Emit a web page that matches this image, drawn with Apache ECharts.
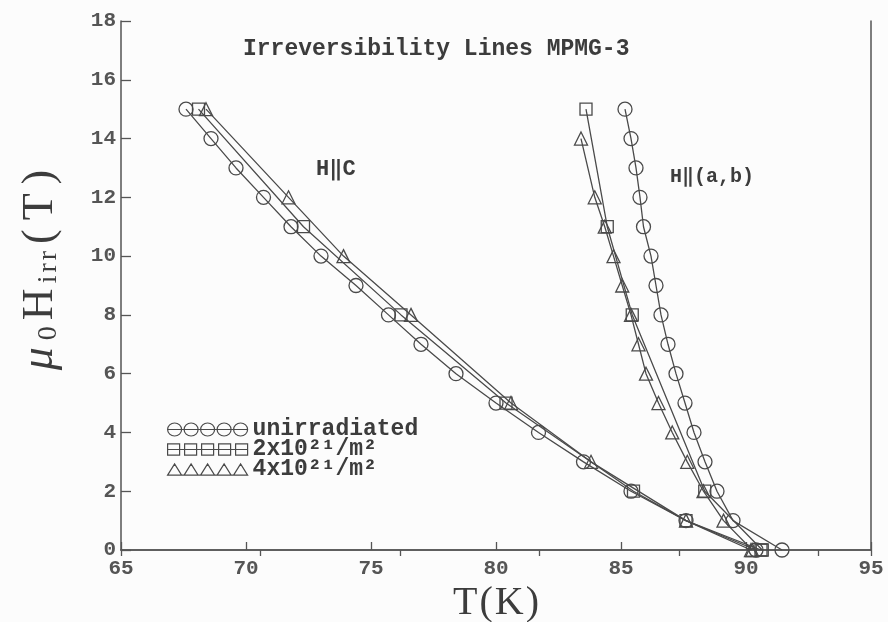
<!DOCTYPE html>
<html><head><meta charset="utf-8">
<script src="https://cdn.jsdelivr.net/npm/echarts@6/dist/echarts.min.js"></script>
<style>html,body{margin:0;padding:0;background:#fcfcfc}#c{width:888px;height:622px}</style>
</head><body><div id="c"></div>
<script>
// ---- data (T in K, field in T) ----
const xTickValues = [65, 70, 75, 80, 85, 90, 95];
const yTickValues = [0, 2, 4, 6, 8, 10, 12, 14, 16, 18];
const legendNames = ['unirradiated', '2x10²¹/m²', '4x10²¹/m²'];

// H || c
const hcUnirrH = [15, 14, 13, 12, 11, 10, 9, 8, 7, 6, 5, 4, 3, 2, 1, 0];
const hcUnirrT = [67.6, 68.6, 69.6, 70.7, 71.8, 73.0, 74.4, 75.7, 77.0, 78.4, 80.0, 81.7, 83.5, 85.4, 87.6, 90.4];
const hcSqH = [15, 11, 8, 5, 2, 1, 0];
const hcSqT = [68.1, 72.3, 76.2, 80.4, 85.5, 87.6, 90.6];
const hcTriH = [15, 12, 10, 8, 5, 3, 1, 0];
const hcTriT = [68.4, 71.7, 73.9, 76.6, 80.6, 83.8, 87.6, 90.2];

// H || (a,b)
const abUnirrH = [15, 14, 13, 12, 11, 10, 9, 8, 7, 6, 5, 4, 3, 2, 1, 0];
const abUnirrT = [85.16, 85.4, 85.6, 85.76, 85.9, 86.2, 86.4, 86.6, 86.88, 87.2, 87.56, 87.92, 88.36, 88.84, 89.48, 91.44];
const abSqH = [15, 11, 8, 2, 0];
const abSqT = [83.6, 84.45, 85.45, 88.35, 90.65];
const abTriH = [14, 12, 11, 10, 9, 8, 7, 6, 5, 4, 3, 2, 1, 0];
const abTriT = [83.4, 83.95, 84.35, 84.7, 85.05, 85.4, 85.7, 86.0, 86.5, 87.05, 87.65, 88.3, 89.1, 90.25];

// ---- chart ----
const chart = echarts.init(document.getElementById('c'), null, {renderer: 'canvas'});
const mono = '"Liberation Mono", "DejaVu Sans Mono", monospace';
const serif = '"Liberation Serif", "DejaVu Serif", serif';
const ink = '#4a4a4a';
const txt = '#3c3c3c';

function pts(xs, ys) { return xs.map((x, i) => [x, ys[i]]); }
function mk(name, sym, size, xs, ys) {
  return {
    type: 'line', name, data: pts(xs, ys), symbol: sym, symbolSize: size, showSymbol: true,
    lineStyle: {color: ink, width: 1.3},
    itemStyle: {color: 'rgba(255,255,255,0)', borderColor: ink, borderWidth: 1.3},
    emphasis: {disabled: true}, silent: true, z: 3
  };
}

function circlesPath() {
  let p = 'M0,7 L80,7 ';
  for (let i = 0; i < 5; i++) { const x = 16.5 * i; p += `M${x},7 a7,7 0 1,0 14,0 a7,7 0 1,0 -14,0 `; }
  return 'path://' + p;
}
function squaresPath() {
  let p = 'M0,7 L80,7 ';
  for (let i = 0; i < 5; i++) { const x = 17 * i; p += `M${x},1 L${x + 12},1 L${x + 12},13 L${x},13 Z `; }
  return 'path://' + p + 'M0,0 M80,14';
}
function trianglesPath() {
  let p = 'M0,13 L80,13 ';
  for (let i = 0; i < 5; i++) { const x = 16.5 * i; p += `M${x},13 L${x + 7},1 L${x + 14},13 Z `; }
  return 'path://' + p + 'M0,0 M80,14';
}

const option = {
  backgroundColor: '#fcfcfc',
  animation: false,
  grid: {left: 121, right: 17, top: 21, bottom: 72, containLabel: false, outerBoundsMode: 'none'},
  xAxis: [{
    type: 'value', min: 65, max: 95, interval: 5, position: 'bottom',
    name: '{n|T}{n|(}{n|K}{n|)}', nameLocation: 'middle', nameGap: 30,
    nameTextStyle: {
      fontFamily: serif, fontSize: 40, color: txt,
      rich: {n: {fontFamily: serif, fontSize: 40, color: txt, padding: [0, 1, 0, 1]}}
    },
    axisLine: {show: true, lineStyle: {color: '#555', width: 1.5}},
    axisTick: {show: true, inside: true, length: 8, lineStyle: {color: '#555', width: 1.3}},
    axisLabel: {fontFamily: mono, fontWeight: 'bold', fontSize: 21, color: '#555', margin: 8},
    splitLine: {show: false}
  }, {
    type: 'value', min: 0, max: 5.376, interval: 1, position: 'top',
    axisLine: {show: true, lineStyle: {color: '#555', width: 1.5}},
    axisTick: {show: true, inside: true, length: 6, lineStyle: {color: '#555', width: 1.3}},
    axisLabel: {show: false}, splitLine: {show: false}
  }],
  yAxis: [{
    type: 'value', min: 0, max: 18, interval: 2, position: 'left',
    name: '{m|μ}{s|0}{n|H}{s|i}{s|r}{s|r}{p|(}{n|T}{p|)}', nameLocation: 'middle', nameGap: 58, nameRotate: 90,
    nameTextStyle: {
      fontFamily: serif, fontSize: 44, color: txt, padding: [0, 0, 0, 36],
      rich: {
        m: {fontFamily: serif, fontSize: 46, fontStyle: 'italic', color: txt, padding: [0, 6, 0, 0]},
        n: {fontFamily: serif, fontSize: 44, color: txt, padding: [0, 4, 0, 4]},
        p: {fontFamily: serif, fontSize: 44, color: txt, padding: [0, 5, 0, 5]},
        s: {fontFamily: serif, fontSize: 28, color: txt, padding: [18, 2, 0, 1]}
      }
    },
    axisLine: {show: true, lineStyle: {color: '#555', width: 1.5}},
    axisTick: {show: true, inside: true, length: 10, lineStyle: {color: '#555', width: 1.3}},
    axisLabel: {fontFamily: mono, fontWeight: 'bold', fontSize: 21, color: '#555', margin: 5},
    splitLine: {show: false}
  }, {
    type: 'value', min: 0, max: 18, interval: 2, position: 'right',
    axisLine: {show: true, lineStyle: {color: '#555', width: 1.5}},
    axisTick: {show: false}, axisLabel: {show: false}, splitLine: {show: false}
  }],
  legend: {
    orient: 'vertical', left: 162, top: 413, itemWidth: 80, itemHeight: 13, itemGap: -3,
    symbolKeepAspect: false, selectedMode: false,
    data: [
      {name: legendNames[0], icon: circlesPath()},
      {name: legendNames[1], icon: squaresPath()},
      {name: legendNames[2], icon: trianglesPath()}
    ],
    itemStyle: {color: 'rgba(255,255,255,0)', borderColor: ink, borderWidth: 1.2},
    textStyle: {fontFamily: mono, fontWeight: 'bold', fontSize: 23, color: txt, lineHeight: 20}
  },
  graphic: [
    {type: 'text', left: 243, top: 38, style: {text: 'Irreversibility Lines MPMG-3', fontFamily: mono, fontWeight: 'bold', fontSize: 23, fill: txt}},
    {type: 'text', left: 316, top: 158, style: {text: 'H‖C', fontFamily: mono, fontWeight: 'bold', fontSize: 22, fill: txt}},
    {type: 'text', left: 670, top: 167, style: {text: 'H‖(a,b)', fontFamily: mono, fontWeight: 'bold', fontSize: 20, fill: txt}}
  ],
  series: [
    mk(legendNames[0], 'circle', 14, hcUnirrT, hcUnirrH),
    mk(legendNames[1], 'rect', 12, hcSqT, hcSqH),
    mk(legendNames[2], 'triangle', 13, hcTriT, hcTriH),
    mk(legendNames[0], 'circle', 14, abUnirrT, abUnirrH),
    mk(legendNames[1], 'rect', 12, abSqT, abSqH),
    mk(legendNames[2], 'triangle', 13, abTriT, abTriH)
  ]
};
chart.setOption(option);
</script>
</body></html>
